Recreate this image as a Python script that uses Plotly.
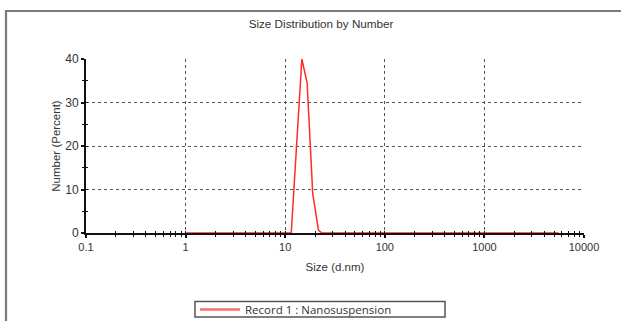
import plotly.graph_objects as go

# Data
size_nm = [1.0, 11.5, 14.7, 16.6, 18.9, 21.6, 23.5, 5560]
number_pct = [0, 0, 40, 34.5, 9.0, 0.6, 0, 0]

x_major = [0.1, 1, 10, 100, 1000, 10000]
x_major_text = ["0.1", "1", "10", "100", "1000", "10000"]
y_major = [0, 10, 20, 30, 40]
y_minor = [5, 15, 25, 35]

x_minor = [m * 10 ** e for e in range(-1, 4) for m in range(2, 10)]

font = "Liberation Sans, Arial, sans-serif"
W, H = 621, 321
L, R, T, B = 86, 37, 59, 88
pw, ph = W - L - R, H - T - B

def px_x(p):
    return (p - L) / pw

def px_y(p):
    return (H - B - p) / ph

fig = go.Figure()
fig.add_trace(go.Scatter(x=size_nm, y=number_pct, mode="lines",
                         line=dict(color="#ff2a2a", width=1.5),
                         showlegend=False, hoverinfo="skip"))
# legend entry
fig.add_trace(go.Scatter(x=[None], y=[None], mode="lines",
                         line=dict(color="#ff6b6b", width=2.5),
                         name="Record 1 : Nanosuspension"))
# overlay axes for inner halves of crossing ticks
fig.add_trace(go.Scatter(x=[None], y=[None], xaxis="x2", yaxis="y2",
                         showlegend=False, hoverinfo="skip"))

fig.update_layout(
    width=W, height=H,
    margin=dict(l=L, r=R, t=T, b=B, autoexpand=False),
    paper_bgcolor="white", plot_bgcolor="white",
    title=dict(text="Size Distribution by Number", x=0.517, xref="container",
               y=1 - 24 / H, yref="container", xanchor="center", yanchor="middle",
               font=dict(family=font, size=11.7, color="#333")),
    xaxis=dict(type="log", range=[-1, 4], tickvals=x_major, ticktext=x_major_text,
               ticks="outside", ticklen=3, tickcolor="#111", tickwidth=1.5,
               showline=True, linecolor="#111", linewidth=2,
               showgrid=True, gridcolor="#555", griddash="dot", gridwidth=1,
               zeroline=False,
               minor=dict(tickvals=x_minor, ticks="outside", ticklen=2,
                          tickcolor="#111", tickwidth=1.2, showgrid=False),
               tickfont=dict(family=font, size=11, color="#333"),
               title=dict(text="Size (d.nm)", standoff=11,
                          font=dict(family=font, size=11.5, color="#333"))),
    yaxis=dict(range=[0, 40], tickvals=y_major,
               ticks="outside", ticklen=3, tickcolor="#111", tickwidth=1.5,
               showline=True, linecolor="#111", linewidth=2,
               showgrid=True, gridcolor="#555", griddash="dot", gridwidth=1,
               zeroline=False,
               minor=dict(tickvals=y_minor, ticks="outside", ticklen=2,
                          tickcolor="#111", tickwidth=1.2, showgrid=False),
               tickfont=dict(family=font, size=12, color="#333"),
               title=dict(text="Number (Percent)", standoff=2,
                          font=dict(family=font, size=11.5, color="#333"))),
    xaxis2=dict(type="log", range=[-1, 4], overlaying="x", anchor="y2", side="bottom",
                tickvals=x_major + x_minor, ticks="inside", ticklen=2,
                tickcolor="#111", tickwidth=1.2, showticklabels=False,
                showgrid=False, zeroline=False, showline=False),
    yaxis2=dict(range=[0, 40], overlaying="y", anchor="x2", side="left",
                tickvals=y_major + y_minor, ticks="inside", ticklen=2,
                tickcolor="#111", tickwidth=1.2, showticklabels=False,
                showgrid=False, zeroline=False, showline=False),
    legend=dict(orientation="h", x=px_x(195), y=px_y(309.5), xanchor="left", yanchor="middle",
                borderwidth=0, bgcolor="rgba(0,0,0,0)",
                itemwidth=40,
                font=dict(family="Open Sans, sans-serif", size=11.5, color="#333")),
    shapes=[
        dict(type="line", xref="paper", yref="paper", x0=px_x(5), x1=px_x(W + 2),
             y0=px_y(11), y1=px_y(11), line=dict(color="#7a7a7a", width=2.2),
             layer="above"),
        dict(type="line", xref="paper", yref="paper", x0=px_x(6), x1=px_x(6),
             y0=px_y(10), y1=px_y(H + 2), line=dict(color="#7a7a7a", width=2.2),
             layer="above"),
        dict(type="rect", xref="paper", yref="paper", x0=px_x(195), x1=px_x(445),
             y0=px_y(317), y1=px_y(301.5), line=dict(color="#555", width=1.5),
             fillcolor="rgba(0,0,0,0)"),
    ],
)

fig.write_html("out.html", config={"displayModeBar": False},
               post_script="document.body.style.margin='0';")
